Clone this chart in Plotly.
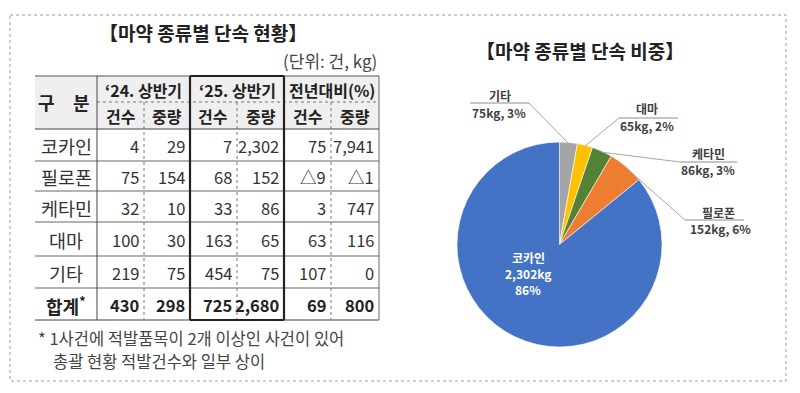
import math
import plotly.graph_objects as go

# ---------------- data ----------------
categories = ["코카인", "필로폰", "케타민", "대마", "기타"]
cases_24 = [4, 75, 32, 100, 219]
weight_24 = [29, 154, 10, 30, 75]
cases_25 = [7, 68, 33, 163, 454]
weight_25 = [2302, 152, 86, 65, 75]
yoy_cases = ["75", "△9", "3", "63", "107"]
yoy_weight = ["7,941", "△1", "747", "116", "0"]
total_label = "합계<sup>*</sup>"
totals = ["430", "298", "725", "2,680", "69", "800"]
group_headers = ["‘24. 상반기", "‘25. 상반기", "전년대비(%)"]
sub_headers = ["건수", "중량"]
table_title = "【마약 종류별 단속 현황】"
unit_text = "(단위: 건, kg)"
footnote_1 = "* 1사건에 적발품목이 2개 이상인 사건이 있어"
footnote_2 = "총괄 현황 적발건수와 일부 상이"
pie_title = "【마약 종류별 단속 비중】"
pie_colors = ["#4472C4", "#ED7D31", "#548235", "#FFC000", "#A5A5A5"]

W, H = 800, 393
FONT = "Noto Sans CJK KR"


def px(x):
    return x / W


def py(y):
    return 1 - y / H


shapes = []
annotations = []


def line(x0, y0, x1, y1, color="#555", width=1, dash="solid"):
    shapes.append(dict(type="line", xref="paper", yref="paper",
                       x0=px(x0), y0=py(y0), x1=px(x1), y1=py(y1),
                       line=dict(color=color, width=width, dash=dash)))


def text(x, y, s, size=15, color="#333", bold=False, xanchor="center"):
    if bold:
        s = "<b>" + s + "</b>"
    annotations.append(dict(xref="paper", yref="paper", x=px(x), y=py(y),
                            text=s, showarrow=False, xanchor=xanchor,
                            yanchor="middle",
                            font=dict(family=FONT, size=size, color=color)))


# outer dotted frame
shapes.append(dict(type="rect", xref="paper", yref="paper",
                   x0=px(10), y0=py(15), x1=px(786), y1=py(381),
                   line=dict(color="#9a9a9a", width=1, dash="dot")))

# ---------------- table ----------------
col_x = [35, 97, 144, 190, 237, 284, 331, 379]
head_y = [76, 102, 129]
row_y = [129, 161, 191, 222, 256, 288, 320]

# header background
shapes.append(dict(type="rect", xref="paper", yref="paper",
                   x0=px(col_x[0]), y0=py(head_y[2]), x1=px(col_x[-1]), y1=py(head_y[0]),
                   fillcolor="#EFEFEF", line=dict(width=0), layer="below"))

# horizontal lines
line(col_x[0], head_y[0], col_x[-1], head_y[0], "#555", 1.2)
line(col_x[1], head_y[1], col_x[-1], head_y[1], "#777", 1, "dot")
line(col_x[0], head_y[2], col_x[-1], head_y[2], "#444", 1.2)
for yy in row_y[1:-1]:
    line(col_x[0], yy, col_x[-1], yy, "#666", 1)
line(col_x[0], row_y[-1], col_x[-1], row_y[-1], "#444", 1.2)

# vertical lines
line(col_x[1], head_y[0], col_x[1], row_y[-1], "#444", 1)
for cx in (col_x[2], col_x[4], col_x[6]):
    line(cx, head_y[1], cx, row_y[-1], "#777", 1, "dot")
line(col_x[-1], head_y[0], col_x[-1], row_y[-1], "#666", 1)
# thick box around '25 columns
for cx in (col_x[3], col_x[5]):
    line(cx, head_y[0], cx, row_y[-1], "#222", 2.2)
line(col_x[3], head_y[0], col_x[5], head_y[0], "#222", 2.2)
line(col_x[3], row_y[-1], col_x[5], row_y[-1], "#222", 2.2)

# titles
text(203, 32, table_title, 19, "#222", True)
text(379, 60, unit_text, 17, "#444", xanchor="right")

# header texts
text(46, 102, "구", 18, "#222", True)
text(81, 102, "분", 18, "#222", True)
for g, name in enumerate(group_headers):
    xc = (col_x[1 + 2 * g] + col_x[3 + 2 * g]) / 2
    text(xc, (head_y[0] + head_y[1]) / 2 + 1, name, 16, "#222", True)
    for s, sub in enumerate(sub_headers):
        xs = (col_x[1 + 2 * g + s] + col_x[2 + 2 * g + s]) / 2
        text(xs, (head_y[1] + head_y[2]) / 2 + 1, sub, 16, "#222", True)


def fmt(v):
    return f"{v:,}"


columns = [
    [fmt(v) for v in cases_24],
    [fmt(v) for v in weight_24],
    [fmt(v) for v in cases_25],
    [fmt(v) for v in weight_25],
    yoy_cases,
    yoy_weight,
]

for r, cat in enumerate(categories):
    yc = (row_y[r] + row_y[r + 1]) / 2 + 1
    text(66, yc, cat, 18.5, "#333")
    for c, colvals in enumerate(columns):
        text(col_x[c + 2] - 3, yc, colvals[r], 16.5, "#333", xanchor="right")

yc = (row_y[-2] + row_y[-1]) / 2 + 1
text(66, yc, total_label, 18, "#222", True)
for c, v in enumerate(totals):
    text(col_x[c + 2] - 3, yc, v, 16.5, "#222", True, xanchor="right")

# footnote
text(36, 338, footnote_1, 16.5, "#444", xanchor="left")
text(51, 361, footnote_2, 16.5, "#444", xanchor="left")

# ---------------- pie ----------------
cx_p, cy_p, r_p = 559.5, 244.5, 101.5
total_w = sum(weight_25)

# clockwise from 12 o'clock: 기타, 대마, 케타민, 필로폰, 코카인
pie_labels = categories[::-1]
pie_values = weight_25[::-1]
pie_cols = pie_colors[::-1]

pie = go.Pie(
    labels=pie_labels,
    values=pie_values,
    sort=False,
    direction="clockwise",
    rotation=0,
    marker=dict(colors=pie_cols, line=dict(color="white", width=0.6)),
    textinfo="none",
    hoverinfo="label+value+percent",
    domain=dict(x=[px(cx_p - r_p - 1), px(cx_p + r_p + 1)],
                y=[py(cy_p + r_p + 1), py(cy_p - r_p - 1)]),
    showlegend=False,
)

text(580, 50, pie_title, 19, "#222", True)

# label layout for the small slices (positions only)
label_layout = {
    "기타": dict(name=(500, 95), val=(499, 112), ul=(470, 529, 103), anchor=529),
    "대마": dict(name=(647, 109), val=(647, 126), ul=(619, 678, 118), anchor=619),
    "케타민": dict(name=(708, 153), val=(708, 169), ul=(680, 737, 162), anchor=680),
    "필로폰": dict(name=(718, 212), val=(720, 228), ul=(685, 744, 220), anchor=685),
}

cum = 0
for cat, v in zip(pie_labels, pie_values):
    mid = cum + v / 2
    cum += v
    pct = round(v / total_w * 100)
    ang = math.radians(mid / total_w * 360)  # clockwise from 12 o'clock
    if cat in label_layout:
        L = label_layout[cat]
        ex = cx_p + r_p * math.sin(ang)
        ey = cy_p - r_p * math.cos(ang)
        x0, x1, yu = L["ul"]
        line(x0, yu, x1, yu, "#8C8C8C", 1)
        line(L["anchor"], yu, ex, ey, "#A6A6A6", 1)
        text(L["name"][0], L["name"][1], cat, 12, "#404040", True)
        text(L["val"][0], L["val"][1], f"{v}kg, {pct}%", 12, "#404040", True)
    else:
        text(528, 257, cat, 12, "white", True)
        text(528, 273, f"{v:,}kg", 12, "white", True)
        text(528, 289, f"{pct}%", 12, "white", True)

fig = go.Figure(pie)
fig.update_layout(
    width=W, height=H,
    margin=dict(l=0, r=0, t=0, b=0),
    paper_bgcolor="white",
    plot_bgcolor="white",
    shapes=shapes,
    annotations=annotations,
)
fig.write_html("out.html",
               config={"displayModeBar": False},
               post_script="document.body.style.margin='0';document.body.style.overflow='hidden';")
